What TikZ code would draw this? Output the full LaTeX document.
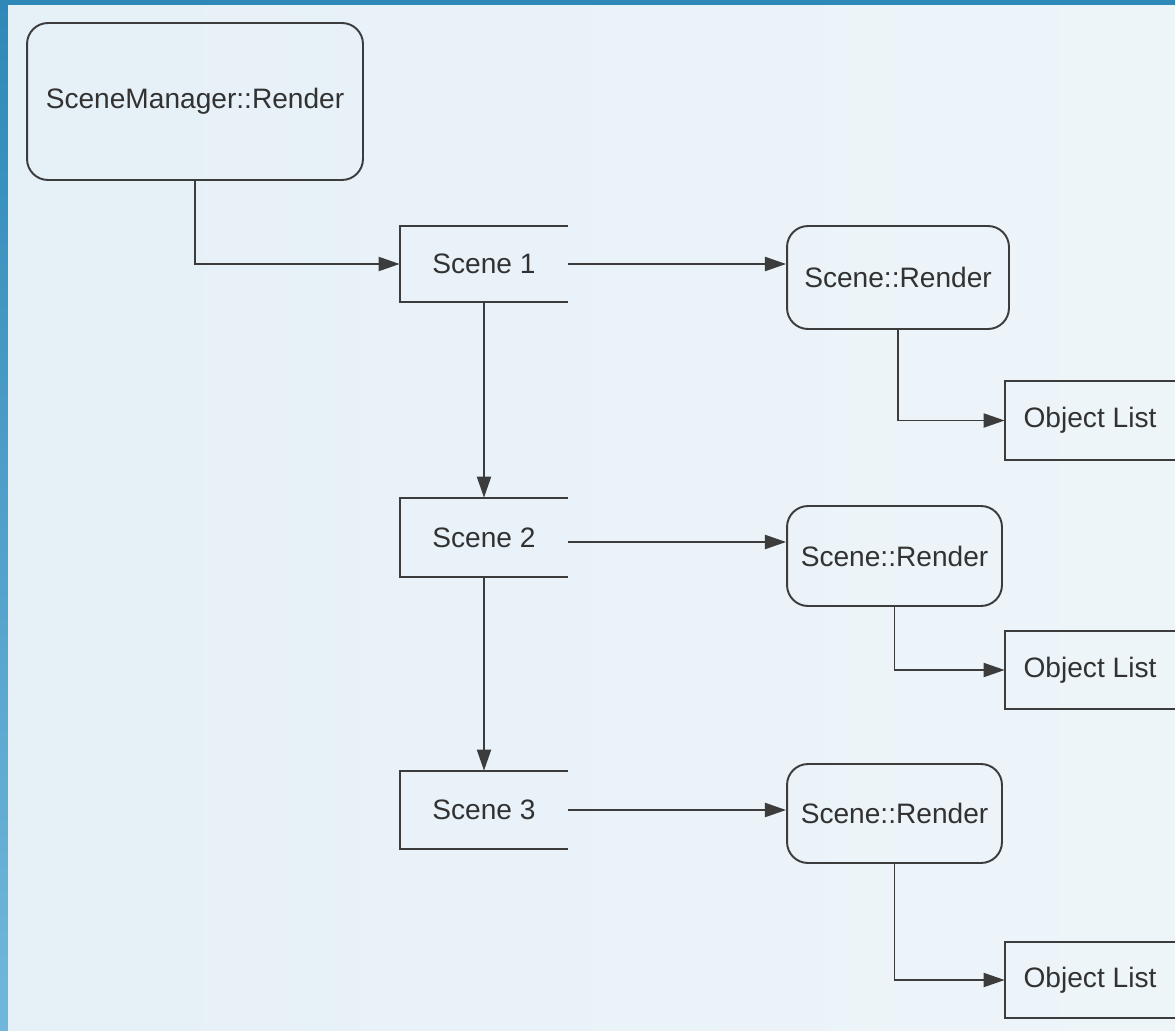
\documentclass[tikz,border=0pt]{standalone}
\usepackage{fontspec}
\setmainfont{Liberation Sans}
\usetikzlibrary{arrows.meta,positioning,calc}

\definecolor{stripblue}{RGB}{52,152,204}
\definecolor{paleblue}{RGB}{229,240,247}
\definecolor{paleblueR}{RGB}{238,245,249}
\definecolor{linegray}{RGB}{60,60,60}
\definecolor{textgray}{RGB}{50,50,50}

\tikzset{
  box/.style={inner sep=0pt,font=\fontsize{16}{19}\selectfont,text=textgray},
  roundbox/.style={box,draw=linegray,line width=1.1pt,rounded corners=0.42cm},
  openbox/.style={box},
  link/.style={draw=linegray,line width=1.1pt,-{Triangle[length=12pt,width=8pt]}},
  edge/.style={draw=linegray,line width=1.1pt}
}

\begin{document}
\begin{tikzpicture}[x=0.02cm,y=-0.02cm]
\clip (0,0) rectangle (1175,1030);
% backdrop with the blue frame
\shade[top color=stripblue!90!black,bottom color=stripblue!70!white] (0,0) rectangle (1175,1030);
\shade[left color=paleblue,right color=paleblueR] (8,6) rectangle (1175,1030);

% manager
\node[roundbox,minimum width=6.72cm,minimum height=3.14cm] (mgr) at (195,101.5) {SceneManager::Render};

% scenes
\node[openbox,minimum width=3.36cm,minimum height=1.52cm] (sc1) at (484,264) {Scene 1};
\node[openbox,minimum width=3.36cm,minimum height=1.58cm] (sc2) at (484,537.5) {Scene 2};
\node[openbox,minimum width=3.36cm,minimum height=1.56cm] (sc3) at (484,810) {Scene 3};

% render calls
\node[roundbox,minimum width=4.44cm,minimum height=2.06cm] (rd1) at (898,277.5) {Scene::Render};
\node[roundbox,minimum width=4.30cm,minimum height=2.00cm] (rd2) at (894.5,556) {Scene::Render};
\node[roundbox,minimum width=4.30cm,minimum height=1.98cm] (rd3) at (894.5,813.5) {Scene::Render};

% object lists
\node[openbox,minimum width=3.40cm,minimum height=1.58cm] (ol1) at (1090,420.5) {Object List};
\node[openbox,minimum width=3.40cm,minimum height=1.56cm] (ol2) at (1090,670) {Object List};
\node[openbox,minimum width=3.40cm,minimum height=1.52cm] (ol3) at (1090,980) {Object List};

% open sides
\foreach \n in {sc1,sc2,sc3,ol1,ol2,ol3}
  \draw[edge] (\n.north east) -- (\n.north west) -- (\n.south west) -- (\n.south east);

% connectors
\draw[link] (mgr.south) |- (sc1.west);
\draw[link] (sc1.south) -- (sc2.north);
\draw[link] (sc2.south) -- (sc3.north);
\draw[link] (sc1.east) -- (sc1.east -| rd1.west);
\draw[link] ($(sc2.east)+(0,4.5)$) -- ($(sc2.east -| rd2.west)+(0,4.5)$);
\draw[link] (sc3.east) -- (sc3.east -| rd3.west);
\draw[link] (rd1.south) |- (ol1.west);
\draw[link] (rd2.south) |- (ol2.west);
\draw[link] (rd3.south) |- (ol3.west);
\end{tikzpicture}
\end{document}
